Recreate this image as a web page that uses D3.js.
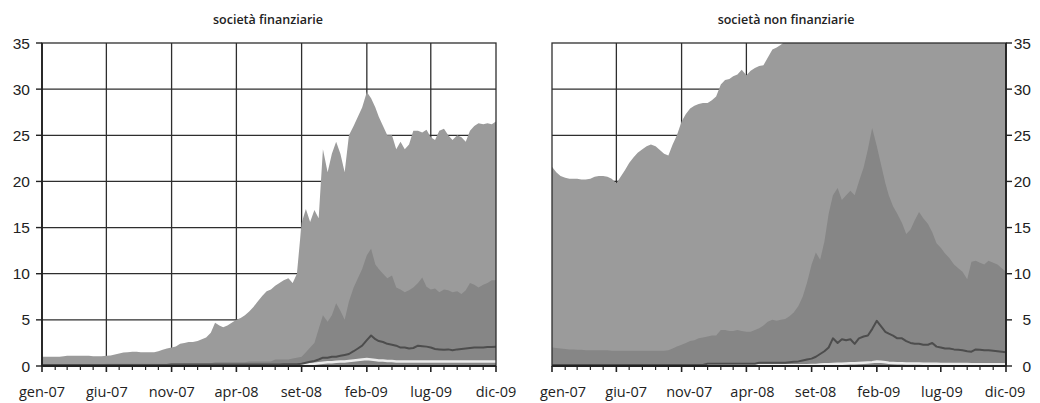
<!DOCTYPE html>
<html>
<head>
<meta charset="utf-8">
<script src="https://cdn.jsdelivr.net/npm/d3@7"></script>
<style>
  html, body { margin: 0; padding: 0; background: #fff; }
  svg { display: block; }
</style>
</head>
<body>
<svg id="chart" width="1040" height="403"></svg>
<script>
// Observation grid: three readings per month (1st, 11th, 21st), gen-07 .. dic-09
const obsDates = d3.range(106).map(i => new Date(2007, Math.floor(i / 3), [1, 11, 21][i % 3]));

const xTickLabels = ["gen-07", "giu-07", "nov-07", "apr-08", "set-08", "feb-09", "lug-09", "dic-09"];
const yTicks = [0, 5, 10, 15, 20, 25, 30, 35];

// società finanziarie
const finTop = [
  1.0,1.0,1.0,1.0,1.0,1.05,1.1,1.1,1.1,1.1,1.1,1.1,1.05,1.05,1.05,
  1.1,1.15,1.25,1.35,1.45,1.5,1.55,1.55,1.5,1.5,1.5,1.5,1.6,1.75,1.9,
  2.0,2.1,2.4,2.5,2.6,2.6,2.7,2.9,3.1,3.6,4.7,4.4,4.2,4.4,4.7,
  5.0,5.2,5.5,5.9,6.4,7.0,7.6,8.1,8.3,8.7,9.0,9.3,9.5,9.0,10.0,
  15.5,17.0,15.6,16.9,16.0,23.5,21.0,23.0,24.3,23.0,21.0,25.0,26.0,27.0,28.0,
  29.7,29.0,28.0,27.0,26.0,25.0,25.0,23.5,24.3,23.5,24.0,25.5,25.5,25.3,25.6,
  24.8,24.5,25.5,25.7,25.0,24.5,25.0,24.8,24.3,25.5,26.0,26.3,26.2,26.3,26.2,
  26.5
];
const finMid = [
  0.2,0.2,0.2,0.2,0.2,0.2,0.2,0.2,0.2,0.2,0.2,0.2,0.2,0.2,0.2,
  0.25,0.25,0.25,0.25,0.25,0.25,0.25,0.25,0.25,0.25,0.25,0.25,0.25,0.25,0.25,
  0.3,0.3,0.3,0.3,0.3,0.3,0.3,0.3,0.3,0.3,0.4,0.4,0.4,0.4,0.4,
  0.4,0.4,0.4,0.5,0.5,0.5,0.5,0.5,0.5,0.7,0.7,0.7,0.7,0.8,0.9,
  1.0,1.5,2.0,2.5,4.0,5.5,4.8,5.5,6.8,6.0,5.0,7.0,8.5,9.5,10.5,
  12.0,12.7,11.0,10.5,10.0,9.5,9.8,8.5,8.3,8.0,8.2,8.5,9.0,9.6,8.6,
  8.3,8.4,8.0,8.3,8.2,8.0,8.1,7.8,8.2,9.0,8.8,8.5,8.8,9.0,9.3,
  9.3
];
const finMedian = [
  0.1,0.1,0.1,0.1,0.1,0.1,0.1,0.1,0.1,0.1,0.1,0.1,0.1,0.1,0.1,
  0.1,0.1,0.1,0.1,0.1,0.1,0.1,0.1,0.1,0.1,0.1,0.1,0.1,0.1,0.1,
  0.15,0.15,0.15,0.15,0.15,0.15,0.15,0.15,0.15,0.15,0.15,0.15,0.15,0.15,0.15,
  0.15,0.15,0.15,0.15,0.15,0.15,0.15,0.15,0.15,0.15,0.15,0.2,0.2,0.2,0.2,
  0.25,0.35,0.45,0.55,0.7,0.9,0.9,1.0,1.0,1.1,1.2,1.3,1.6,1.9,2.2,
  2.8,3.3,2.9,2.7,2.6,2.4,2.3,2.2,2.0,2.0,1.9,1.95,2.2,2.15,2.1,
  2.0,1.85,1.8,1.75,1.8,1.7,1.8,1.85,1.9,1.95,2.0,2.0,2.0,2.05,2.05,
  2.1
];
const finLow = [
  0.05,0.05,0.05,0.05,0.05,0.05,0.05,0.05,0.05,0.05,0.05,0.05,0.05,0.05,0.05,
  0.05,0.05,0.05,0.05,0.05,0.05,0.05,0.05,0.05,0.05,0.05,0.05,0.05,0.05,0.05,
  0.05,0.05,0.05,0.05,0.05,0.05,0.05,0.05,0.05,0.05,0.05,0.05,0.05,0.05,0.05,
  0.05,0.05,0.05,0.05,0.05,0.05,0.05,0.05,0.05,0.05,0.05,0.05,0.05,0.05,0.05,
  0.1,0.15,0.2,0.25,0.3,0.35,0.4,0.4,0.45,0.5,0.5,0.55,0.6,0.65,0.7,
  0.75,0.7,0.65,0.6,0.6,0.55,0.55,0.5,0.5,0.5,0.5,0.5,0.5,0.5,0.5,
  0.5,0.5,0.5,0.5,0.5,0.5,0.5,0.5,0.5,0.5,0.5,0.5,0.5,0.5,0.5,
  0.5
];

// società non finanziarie
const nonfinTop = [
  21.6,21.0,20.6,20.4,20.3,20.3,20.3,20.2,20.2,20.3,20.5,20.6,20.6,20.5,20.3,
  19.8,20.5,21.2,22.0,22.6,23.1,23.5,23.8,24.0,23.8,23.4,23.0,22.8,24.0,25.0,
  26.5,27.3,27.9,28.2,28.4,28.5,28.5,28.8,29.2,30.5,31.0,31.1,31.4,31.6,32.1,
  31.5,32.0,32.3,32.5,32.6,33.4,34.3,34.5,34.8,35.2,35.6,35.8,36.0,36.2,36.5,
  36.5,37.0,37.5,38.0,38.5,39.0,39.0,39.5,40.0,40.0,40.5,41.0,41.5,42.0,42.5,
  43.0,42.5,42.0,41.5,41.0,40.5,40.0,40.0,39.5,39.5,39.0,39.0,38.5,38.5,38.0,
  38.0,37.5,37.5,37.0,37.0,37.0,36.5,36.5,36.5,36.0,36.0,36.0,36.0,36.0,36.0,
  36.0
];
const nonfinMid = [
  2.0,1.95,1.9,1.85,1.8,1.8,1.75,1.75,1.7,1.7,1.7,1.7,1.7,1.7,1.65,
  1.65,1.65,1.65,1.65,1.65,1.65,1.65,1.65,1.65,1.65,1.65,1.65,1.7,1.9,2.1,
  2.3,2.5,2.7,2.8,3.0,3.1,3.2,3.3,3.3,3.9,3.9,3.8,3.8,3.9,3.8,
  3.7,3.7,3.9,4.1,4.4,4.8,5.0,4.9,5.0,5.1,5.4,5.8,6.5,7.5,9.0,
  11.0,12.3,11.5,13.5,16.5,18.5,19.3,18.0,18.5,19.0,18.5,20.0,21.5,23.5,25.8,
  23.8,21.8,19.8,18.5,17.3,16.5,15.5,14.3,14.8,15.8,16.7,16.0,15.4,14.5,13.3,
  12.8,12.2,11.7,11.0,10.6,10.2,9.4,11.3,11.4,11.2,11.0,11.4,11.2,11.0,10.6,
  10.2
];
const nonfinMedian = [
  0.12,0.12,0.12,0.12,0.12,0.12,0.12,0.12,0.12,0.12,0.12,0.12,0.12,0.12,0.12,
  0.12,0.12,0.12,0.12,0.12,0.12,0.12,0.12,0.12,0.12,0.12,0.12,0.12,0.12,0.12,
  0.12,0.12,0.12,0.12,0.12,0.12,0.25,0.25,0.25,0.25,0.25,0.25,0.25,0.25,0.25,
  0.25,0.25,0.25,0.35,0.35,0.35,0.35,0.35,0.35,0.35,0.4,0.45,0.5,0.6,0.7,
  0.8,1.0,1.3,1.6,2.0,3.0,2.5,2.9,2.8,2.9,2.4,3.0,3.2,3.3,4.0,
  4.9,4.3,3.7,3.5,3.3,3.0,3.0,2.7,2.5,2.4,2.4,2.3,2.3,2.5,2.1,
  2.0,1.9,1.9,1.8,1.75,1.7,1.6,1.55,1.8,1.75,1.7,1.7,1.65,1.6,1.55,
  1.5
];
const nonfinLow = [
  0.08,0.08,0.08,0.08,0.08,0.08,0.08,0.08,0.08,0.08,0.08,0.08,0.08,0.08,0.08,
  0.08,0.08,0.08,0.08,0.08,0.08,0.08,0.08,0.08,0.08,0.08,0.08,0.08,0.08,0.08,
  0.08,0.08,0.08,0.08,0.08,0.08,0.08,0.08,0.08,0.08,0.08,0.08,0.08,0.08,0.08,
  0.08,0.08,0.08,0.08,0.08,0.08,0.08,0.08,0.08,0.08,0.08,0.08,0.08,0.08,0.08,
  0.1,0.12,0.15,0.18,0.2,0.22,0.25,0.25,0.28,0.3,0.3,0.32,0.35,0.38,0.42,
  0.48,0.45,0.4,0.35,0.32,0.3,0.3,0.28,0.28,0.27,0.26,0.25,0.25,0.24,0.24,
  0.23,0.23,0.22,0.22,0.22,0.21,0.21,0.2,0.2,0.2,0.2,0.2,0.2,0.2,0.2,
  0.2
];

const svg = d3.select("#chart");
const GRID = "#2e2e2e";
const COL_TOP = "#9b9b9b";
const COL_MID = "#868686";
const COL_MEDIAN = "#4d4d4d";
const COL_LOW = "#ececec";

function drawPanel(p) {
  const x = d3.scaleTime()
    .domain([obsDates[0], obsDates[obsDates.length - 1]])
    .range([p.x0, p.x1]);
  const y = d3.scaleLinear().domain([0, 35]).range([p.y1, p.y0]);

  const g = svg.append("g");
  const clipId = "clip-" + p.id;
  svg.append("clipPath").attr("id", clipId)
    .append("rect").attr("x", p.x0).attr("y", p.y0)
    .attr("width", p.x1 - p.x0).attr("height", p.y1 - p.y0);

  // monthly ticks; every fifth month (from gen-07) is a labelled major tick
  const allMonths = d3.timeMonth.range(obsDates[0], d3.timeDay.offset(obsDates[obsDates.length - 1], 1));
  const majorMonths = allMonths.filter((d, i) => i % 5 === 0);
  const isMajor = d => majorMonths.some(m => +m === +d);

  // grid
  g.append("g").selectAll("line").data(yTicks.filter(v => v > 0 && v < 35)).join("line")
    .attr("x1", p.x0).attr("x2", p.x1)
    .attr("y1", d => y(d)).attr("y2", d => y(d))
    .attr("stroke", GRID).attr("stroke-width", 1.3);
  g.append("g").selectAll("line").data(majorMonths.slice(1, -1)).join("line")
    .attr("x1", d => x(d)).attr("x2", d => x(d))
    .attr("y1", p.y0).attr("y2", p.y1)
    .attr("stroke", GRID).attr("stroke-width", 1.3);

  const rows = obsDates.map((d, i) => ({ d, top: p.top[i], mid: p.mid[i], med: p.med[i], low: p.low[i] }));
  const plot = g.append("g").attr("clip-path", `url(#${clipId})`);

  const areaOf = key => d3.area().x(r => x(r.d)).y0(y(0)).y1(r => y(r[key]));
  const lineOf = key => d3.line().x(r => x(r.d)).y(r => y(r[key]));

  plot.append("path").datum(rows).attr("d", areaOf("top")).attr("fill", COL_TOP);
  plot.append("path").datum(rows).attr("d", areaOf("mid")).attr("fill", COL_MID);
  plot.append("path").datum(rows).attr("d", lineOf("low"))
    .attr("fill", "none").attr("stroke", COL_LOW).attr("stroke-width", 2.5);
  plot.append("path").datum(rows).attr("d", lineOf("med"))
    .attr("fill", "none").attr("stroke", COL_MEDIAN).attr("stroke-width", 2)
    .attr("stroke-linejoin", "round");

  // frame
  g.append("rect").attr("x", p.x0).attr("y", p.y0)
    .attr("width", p.x1 - p.x0).attr("height", p.y1 - p.y0)
    .attr("fill", "none").attr("stroke", GRID).attr("stroke-width", 1.3);
  g.append("line").attr("x1", p.x0).attr("x2", p.x1).attr("y1", p.y1).attr("y2", p.y1)
    .attr("stroke", "#222").attr("stroke-width", 1.8);
  const ax = p.side === "left" ? p.x0 : p.x1;
  g.append("line").attr("x1", ax).attr("x2", ax).attr("y1", p.y0).attr("y2", p.y1)
    .attr("stroke", "#222").attr("stroke-width", 1.8);

  // x ticks
  g.append("g").selectAll("line").data(allMonths).join("line")
    .attr("x1", d => x(d)).attr("x2", d => x(d))
    .attr("y1", p.y1).attr("y2", d => p.y1 + (isMajor(d) ? 6 : 4))
    .attr("stroke", "#222").attr("stroke-width", d => isMajor(d) ? 1.6 : 1.2);

  // x labels
  const labelPos = d3.scalePoint().domain(xTickLabels).range(p.labelRange);
  g.append("g").selectAll("text").data(xTickLabels).join("text")
    .attr("x", d => labelPos(d)).attr("y", 397)
    .attr("text-anchor", "middle")
    .attr("font-family", "'Open Sans', sans-serif").attr("font-size", 14.5)
    .attr("fill", "#222").text(d => d);

  // y ticks & labels
  const dir = p.side === "left" ? -1 : 1;
  g.append("g").selectAll("line").data(yTicks).join("line")
    .attr("x1", ax).attr("x2", ax + dir * 6)
    .attr("y1", d => y(d)).attr("y2", d => y(d))
    .attr("stroke", "#222").attr("stroke-width", 1.4);
  g.append("g").selectAll("text").data(yTicks).join("text")
    .attr("x", p.yLabelX).attr("y", d => y(d))
    .attr("dy", "0.36em").attr("text-anchor", "end")
    .attr("font-family", "'Liberation Sans', Arial, sans-serif").attr("font-size", 15.5)
    .attr("fill", "#222").text(d => d);

  // title
  g.append("text").attr("x", p.titleX).attr("y", 24)
    .attr("text-anchor", "middle")
    .attr("font-family", "'Open Sans', sans-serif").attr("font-size", 12.5)
    .attr("font-weight", 600)
    .attr("fill", "#222").text(p.title);
}

drawPanel({
  id: "fin", side: "left", x0: 42, x1: 496, y0: 43, y1: 366,
  top: finTop, mid: finMid, med: finMedian, low: finLow,
  labelRange: [42, 496], yLabelX: 30, titleX: 268,
  title: "società finanziarie"
});
drawPanel({
  id: "nonfin", side: "right", x0: 552, x1: 1006, y0: 43, y1: 366,
  top: nonfinTop, mid: nonfinMid, med: nonfinMedian, low: nonfinLow,
  labelRange: [563, 1005], yLabelX: 1031, titleX: 786,
  title: "società non finanziarie"
});
</script>
</body>
</html>
